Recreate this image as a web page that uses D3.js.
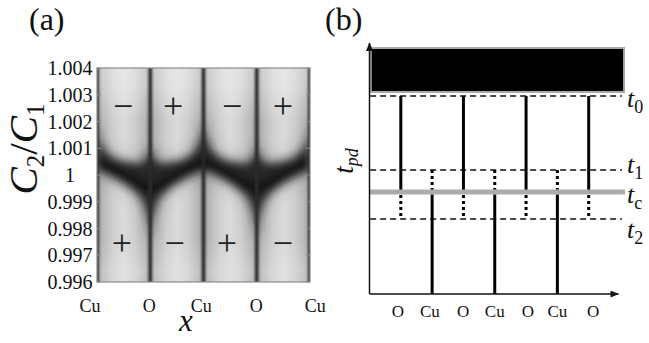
<!DOCTYPE html>
<html><head><meta charset="utf-8">
<script src="https://cdn.jsdelivr.net/npm/d3@7"></script>
<style>html,body{margin:0;padding:0;background:#fff;} svg{display:block;}</style>
</head><body>
<script>
// ================= DATA =================
// Panel (a)
const aSites = ["Cu", "O", "Cu", "O", "Cu"];
const aSitePos = [0, 1, 2, 3, 4];
const aSiteLabelPos = [-0.13, 0.98, 1.96, 2.99, 4.1];
const aYTicks = [0.996, 0.997, 0.998, 0.999, 1, 1.001, 1.002, 1.003, 1.004];
const aYTickLabels = ["0.996", "0.997", "0.998", "0.999", "1", "1.001", "1.002", "1.003", "1.004"];
// dark transition region, one half period: f = 0 at Cu, f = 1 at O (C2/C1 values)
const boundF     = [0, 0.04, 0.10, 0.25, 0.45, 0.65, 0.80, 0.90, 0.96, 1.0];
const upperBound = [1.00187, 1.00142, 1.00108, 1.00071, 1.00052, 1.00045, 1.00041, 1.00052, 1.00075, 1.00101];
const lowerBound = [1.00015, 1.00013, 1.00011, 0.99996, 0.99976, 0.99950, 0.99922, 0.99888, 0.99839, 0.99779];
const coreF    = [0, 0.5, 1];
const coreLine = [1.00056, 1.0000, 0.99944];
const signX = [0.49, 1.43, 2.54, 3.49, 0.47, 1.46, 2.44, 3.49];
const signY = [1.0025, 1.0025, 1.0025, 1.0025, 0.99738, 0.99738, 0.99738, 0.99738];
const signText = ["−", "+", "−", "+", "+", "−", "+", "−"];

// Panel (b)
const bSites = ["O", "Cu", "O", "Cu", "O", "Cu", "O"];
const bSitePos = [1, 2, 3, 4, 5, 6, 7];
const bLabelPos = [0.91, 1.93, 2.99, 4.0, 5.06, 6.0, 7.14];
const levelNames = ["0", "1", "c", "2"];
const levelValues = [0.789, 0.494, 0.406, 0.299];   // t0, t1, tc, t2
const blockRange = [0.805, 0.980];

// ================= DRAW =================
const W = 649, H = 343;
const FONT = "'Liberation Serif','Times New Roman',serif";
const svg = d3.select("body").append("svg").attr("width", W).attr("height", H)
  .style("font-family", FONT);
const defs = svg.append("defs");

// ---------- panel (a) ----------
const ax = d3.scaleLinear().domain([0, 4]).range([97, 310]);
const ay = d3.scaleLinear().domain([0.996, 1.004]).range([282, 68]);

defs.append("clipPath").attr("id", "clipA").append("rect")
  .attr("x", ax(0)).attr("y", ay(1.004)).attr("width", ax(4) - ax(0)).attr("height", ay(0.996) - ay(1.004));

const colGrad = defs.append("linearGradient").attr("id", "colGrad").attr("x1", 0).attr("x2", 1).attr("y1", 0).attr("y2", 0);
[[0, "#959595"], [0.1, "#b6b6b6"], [0.3, "#cfcfcf"], [0.5, "#dadada"], [0.7, "#cfcfcf"], [0.9, "#b6b6b6"], [1, "#959595"]]
  .forEach(s => colGrad.append("stop").attr("offset", s[0]).attr("stop-color", s[1]));
const vGrad = defs.append("linearGradient").attr("id", "vGrad").attr("x1", 0).attr("x2", 0).attr("y1", 0).attr("y2", 1);
[[0, 0.35], [0.08, 0.3], [0.25, 0], [0.8, 0], [0.95, 0.2], [1, 0.15]]
  .forEach(s => vGrad.append("stop").attr("offset", s[0]).attr("stop-color", "#fff").attr("stop-opacity", s[1]));

const blur = defs.append("filter").attr("id", "blurA").attr("x", "-10%").attr("y", "-20%").attr("width", "120%").attr("height", "140%");
blur.append("feGaussianBlur").attr("stdDeviation", 4.2);
const blurW = defs.append("filter").attr("id", "blurW").attr("x", "-10%").attr("y", "-30%").attr("width", "120%").attr("height", "160%");
blurW.append("feGaussianBlur").attr("stdDeviation", 9);
const blurL = defs.append("filter").attr("id", "blurL").attr("x", "-10%").attr("y", "-10%").attr("width", "120%").attr("height", "120%");
blurL.append("feGaussianBlur").attr("stdDeviation", 0.8);

const gA = svg.append("g").attr("clip-path", "url(#clipA)");
gA.selectAll("rect.col").data(d3.range(4)).join("rect").attr("class", "col")
  .attr("x", d => ax(d)).attr("y", ay(1.004)).attr("width", ax(1) - ax(0)).attr("height", ay(0.996) - ay(1.004))
  .attr("fill", "url(#colGrad)");
gA.append("rect").attr("x", ax(0)).attr("y", ay(1.004)).attr("width", ax(4) - ax(0)).attr("height", ay(0.996) - ay(1.004))
  .attr("fill", "url(#vGrad)");

// build boundary samples across all four half periods (mirror symmetric about each site)
function expand(fArr, vals) {
  const out = [];
  for (let k = 0; k < 4; k++) {
    const idx = d3.range(fArr.length);
    const ord = (k % 2 === 0) ? idx : idx.slice().reverse();
    ord.forEach((i, j) => {
      if (k > 0 && j === 0) return;
      const f = fArr[i];
      out.push({ x: (k % 2 === 0) ? k + f : k + 1 - f, i: i, v: vals.map(a => a[i]) });
    });
  }
  return out;
}
const bandPts = expand(boundF, [upperBound, lowerBound]);
const corePts = expand(coreF, [coreLine]);
const bandArea = d3.area().x(d => ax(d.x)).y0(d => ay(d.v[1])).y1(d => ay(d.v[0])).curve(d3.curveMonotoneX);

// wide soft halo
gA.append("path").datum(bandPts).attr("d", bandArea)
  .attr("fill", "#303030").attr("opacity", 0.45).attr("filter", "url(#blurW)");
const gDark = gA.append("g").attr("filter", "url(#blurA)");
gDark.append("path").datum(bandPts).attr("d", bandArea).attr("fill", "#262626");
gDark.append("path").datum(corePts)
  .attr("d", d3.line().x(d => ax(d.x)).y(d => ay(d.v[0])))
  .attr("fill", "none").attr("stroke", "#111").attr("stroke-width", 8);

gA.append("g").attr("filter", "url(#blurL)").selectAll("line").data(aSitePos).join("line")
  .attr("x1", d => ax(d)).attr("x2", d => ax(d)).attr("y1", ay(1.004) - 5).attr("y2", ay(0.996) + 5)
  .attr("stroke", "#2a2a2a").attr("stroke-width", 3.5);

// frame and ticks
svg.append("rect").attr("x", ax(0)).attr("y", ay(1.004)).attr("width", ax(4) - ax(0)).attr("height", ay(0.996) - ay(1.004))
  .attr("fill", "none").attr("stroke", "#8a8a8a").attr("stroke-width", 1.2);
svg.append("g").selectAll("line").data(aYTicks).join("line")
  .attr("x1", ax(0)).attr("x2", ax(0) + 4).attr("y1", d => ay(d)).attr("y2", d => ay(d))
  .attr("stroke", "#8a8a8a").attr("stroke-width", 1);
svg.append("g").selectAll("line").data(aYTicks).join("line")
  .attr("x1", ax(4)).attr("x2", ax(4) - 4).attr("y1", d => ay(d)).attr("y2", d => ay(d))
  .attr("stroke", "#8a8a8a").attr("stroke-width", 1);

svg.append("g").selectAll("text").data(aYTicks).join("text")
  .attr("x", 70).attr("y", d => ay(d) + 7).attr("text-anchor", "middle")
  .attr("font-size", 20).attr("fill", "#111").text((d, i) => aYTickLabels[i]);

svg.append("g").selectAll("text").data(aSites).join("text")
  .attr("x", (d, i) => ax(aSiteLabelPos[i])).attr("y", 312).attr("text-anchor", "middle")
  .attr("font-size", 18).attr("fill", "#111").text(d => d);

svg.append("g").selectAll("text").data(signText).join("text")
  .attr("x", (d, i) => ax(signX[i])).attr("y", (d, i) => ay(signY[i]) + 10).attr("text-anchor", "middle")
  .attr("font-size", 36).attr("fill", "#222").text(d => d);

// axis titles
svg.append("text").attr("x", 186).attr("y", 331).attr("text-anchor", "middle")
  .attr("font-size", 31).attr("font-style", "italic").attr("fill", "#111").text("x");
const yt = svg.append("text").attr("transform", "translate(37,149) rotate(-90)").attr("text-anchor", "middle")
  .attr("font-size", 41).attr("fill", "#111");
yt.append("tspan").attr("font-style", "italic").text("C");
yt.append("tspan").attr("font-size", 25).attr("dy", 7).text("2");
yt.append("tspan").attr("dy", -7).text("/");
yt.append("tspan").attr("font-style", "italic").text("C");
yt.append("tspan").attr("font-size", 25).attr("dy", 7).text("1");

svg.append("text").attr("x", 29).attr("y", 30).attr("font-size", 32).attr("fill", "#111").text("(a)");
svg.append("text").attr("x", 325).attr("y", 30).attr("font-size", 32).attr("fill", "#111").text("(b)");

// ---------- panel (b) ----------
const bx = d3.scaleLinear().domain([0, 8]).range([369.5, 620]);
const by = d3.scaleLinear().domain([0, 1]).range([294, 43]);

const mk = defs.append("marker").attr("id", "arrow").attr("viewBox", "0 0 10 8").attr("refX", 9).attr("refY", 4)
  .attr("markerWidth", 9).attr("markerHeight", 7).attr("markerUnits", "userSpaceOnUse").attr("orient", "auto");
mk.append("path").attr("d", "M0,0 L10,4 L0,8 z").attr("fill", "#111");

const gB = svg.append("g");
// block
gB.append("rect").attr("x", bx(0.04)).attr("y", by(blockRange[1])).attr("width", bx(8.13) - bx(0.04))
  .attr("height", by(blockRange[0]) - by(blockRange[1])).attr("fill", "#000").attr("stroke", "#a8a8a8").attr("stroke-width", 2);

const tc = levelValues[2], t0 = levelValues[0], t1 = levelValues[1], t2 = levelValues[3];
// dashed levels t0, t1, t2
gB.selectAll("line.lev").data(levelValues.filter((d, i) => levelNames[i] !== "c")).join("line").attr("class", "lev")
  .attr("x1", bx(0.02)).attr("x2", bx(8.06)).attr("y1", d => by(d)).attr("y2", d => by(d))
  .attr("stroke", "#111").attr("stroke-width", 1.5).attr("stroke-dasharray", "6,4");
// tc gray line
gB.append("line").attr("x1", bx(0.02)).attr("x2", bx(8.16)).attr("y1", by(tc)).attr("y2", by(tc))
  .attr("stroke", "#ababab").attr("stroke-width", 5);

// site lines
const oPos = bSitePos.filter((d, i) => bSites[i] === "O");
const cuPos = bSitePos.filter((d, i) => bSites[i] === "Cu");
gB.selectAll("line.os").data(oPos).join("line").attr("class", "os")
  .attr("x1", d => bx(d)).attr("x2", d => bx(d)).attr("y1", by(t0)).attr("y2", by(tc) - 2.5)
  .attr("stroke", "#000").attr("stroke-width", 3);
gB.selectAll("line.od").data(oPos).join("line").attr("class", "od")
  .attr("x1", d => bx(d)).attr("x2", d => bx(d)).attr("y1", by(tc) + 3).attr("y2", by(t2))
  .attr("stroke", "#000").attr("stroke-width", 3).attr("stroke-dasharray", "3,3");
gB.selectAll("line.cd").data(cuPos).join("line").attr("class", "cd")
  .attr("x1", d => bx(d)).attr("x2", d => bx(d)).attr("y1", by(t1)).attr("y2", by(tc) - 2.5)
  .attr("stroke", "#000").attr("stroke-width", 3).attr("stroke-dasharray", "3,3");
gB.selectAll("line.cs").data(cuPos).join("line").attr("class", "cs")
  .attr("x1", d => bx(d)).attr("x2", d => bx(d)).attr("y1", by(tc) + 2.5).attr("y2", by(0))
  .attr("stroke", "#000").attr("stroke-width", 3);

// axes
gB.append("line").attr("x1", bx(0)).attr("x2", bx(0)).attr("y1", by(0)).attr("y2", by(1))
  .attr("stroke", "#111").attr("stroke-width", 1.5).attr("marker-end", "url(#arrow)");
gB.append("line").attr("x1", bx(0)).attr("x2", bx(7.95)).attr("y1", by(0)).attr("y2", by(0))
  .attr("stroke", "#111").attr("stroke-width", 1.5).attr("marker-end", "url(#arrow)");

// site labels
gB.selectAll("text.site").data(bSites).join("text").attr("class", "site")
  .attr("x", (d, i) => bx(bLabelPos[i])).attr("y", 317).attr("text-anchor", "middle")
  .attr("font-size", 17).attr("fill", "#111").text(d => d);

// level labels
const labOff = [11, 3, 11, 19];
levelValues.forEach((v, i) => {
  const t = gB.append("text").attr("x", 627).attr("y", by(v) + labOff[i]).attr("font-size", 26).attr("fill", "#111");
  t.append("tspan").attr("font-style", "italic").text("t");
  t.append("tspan").attr("font-size", 18).attr("dy", 6).attr("font-style", "normal").text(levelNames[i]);
});

// y title t_pd
const tp = gB.append("text").attr("transform", "translate(353,161) rotate(-90)").attr("text-anchor", "middle")
  .attr("font-size", 27).attr("fill", "#111").attr("font-style", "italic");
tp.append("tspan").text("t");
tp.append("tspan").attr("font-size", 18).attr("dy", 5).text("pd");
</script>
</body></html>
